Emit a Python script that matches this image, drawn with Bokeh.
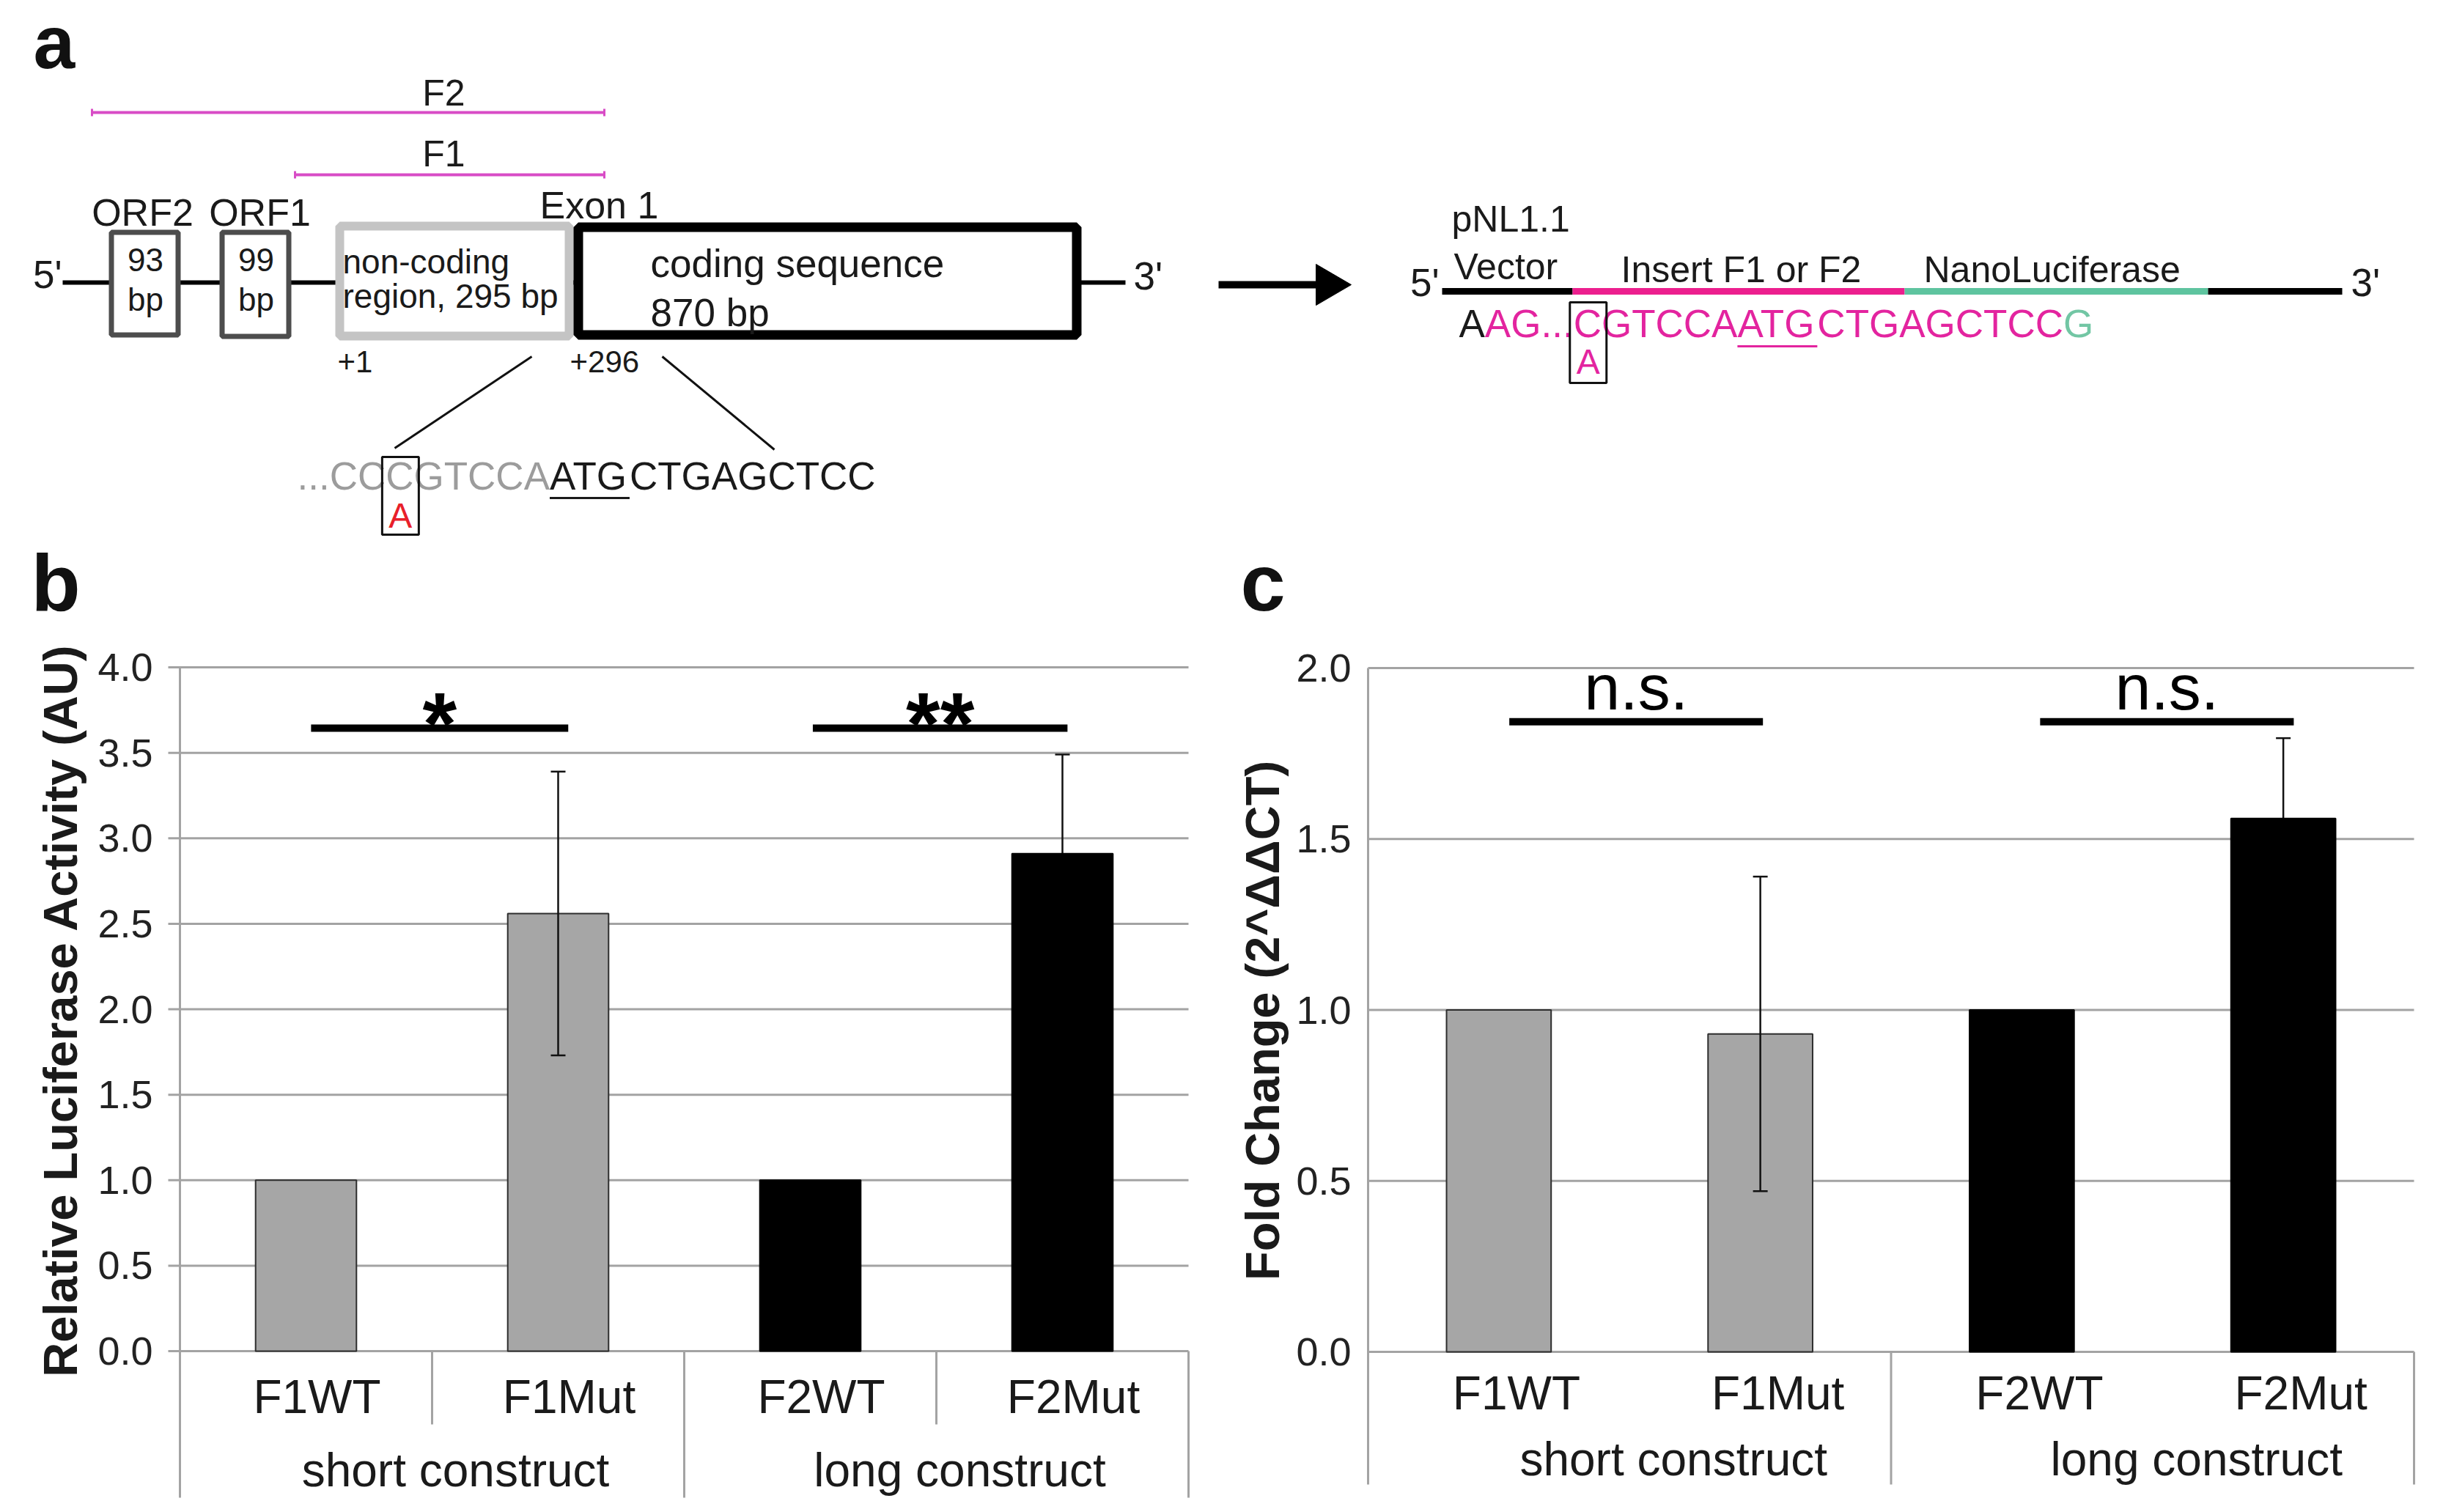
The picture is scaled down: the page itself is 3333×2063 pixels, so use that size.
import math
from bokeh.plotting import figure
from bokeh.models import Range1d
from bokeh.layouts import column, row
from bokeh.embed import file_html
from bokeh.resources import INLINE
from bokeh.core.properties import value

# ---------------- data ----------------
categories = ["F1WT", "F1Mut", "F2WT", "F2Mut"]
groups = ["short construct", "long construct"]
group_of = [0, 0, 1, 1]
luciferase = [1.0, 2.56, 1.0, 2.91]
luciferase_err = [None, 0.83, None, 0.58]
fold_change = [1.0, 0.93, 1.0, 1.56]
fold_change_err = [None, 0.46, None, 0.235]
ticks_b = [0.0, 0.5, 1.0, 1.5, 2.0, 2.5, 3.0, 3.5, 4.0]
ticks_c = [0.0, 0.5, 1.0, 1.5, 2.0]
sig_b = [("*", 0, 1), ("**", 2, 3)]
sig_c = [("n.s.", 0, 1), ("n.s.", 2, 3)]

# ---------------- style ----------------
FONT = "Liberation Sans"
INK = "#1a1a1a"
GRID = "#a3a3a3"
BAR_FILL = ["#a6a6a6", "#a6a6a6", "#000000", "#000000"]
BAR_LINE = ["#2e2e2e", "#2e2e2e", "#000000", "#000000"]
ERR = "#111111"
F_MAG = "#d84cc6"
INS_MAG = "#ec1f8e"
TXT_MAG = "#e3249f"
NL_GREEN = "#5ec49f"
TXT_GREEN = "#72c6a4"
SEQ_GRAY = "#9c9c9c"
BOX_GRAY = "#4d4d4d"
NC_GRAY = "#c4c4c4"
MID = 0.35  # em distance from alphabetic baseline to the "middle" anchor

PAGE_W, PAGE_H = 3333, 2063
SPLIT_Y = 731  # bottom of panel a / top of panels b, c

# Arial / Liberation Sans advance widths (per 1000 em)
AW = {'.': 278, 'A': 667, 'C': 722, 'G': 778, 'T': 611, ' ': 278}


def tw(s, fs):
    return sum(AW[c] for c in s) * fs / 1000.0


def put(p, x, y, s, size, color=INK, align="left", bold=False, angle=0.0, x_offset=0, y_offset=0):
    """text whose alphabetic baseline sits at y (+ y_offset px, positive = down)"""
    p.text(x=[x], y=[y], text=[s], text_font=value(FONT), text_font_size=value(f"{size}px"),
           text_color=color, text_align=align, text_baseline="middle",
           text_font_style="bold" if bold else "normal", angle=angle,
           x_offset=x_offset, y_offset=y_offset - MID * size)


# ======================= panel a (schematic, page pixel coordinates) =======================
pa = figure(width=PAGE_W, height=SPLIT_Y, x_range=Range1d(0, PAGE_W), y_range=Range1d(SPLIT_Y, 0),
            toolbar_location=None, output_backend="svg", x_axis_location=None,
            y_axis_location=None, min_border=0, outline_line_color=None)
pa.grid.visible = False

put(pa, 45, 93, "a", 102, bold=True, color="#111111")

# fragment bars F2 / F1
pa.segment(x0=[125, 402], y0=[153, 238], x1=[824, 824], y1=[153, 238], line_color=F_MAG, line_width=4)
pa.segment(x0=[125, 824, 402, 824], y0=[148, 148, 233, 233], x1=[125, 824, 402, 824],
           y1=[158, 158, 243, 243], line_color=F_MAG, line_width=3)
put(pa, 605, 144, "F2", 50, align="center")
put(pa, 605, 227, "F1", 50, align="center")

# gene backbone
pa.segment(x0=[85], y0=[385], x1=[1535], y1=[385], line_color="#000000", line_width=6)
put(pa, 84, 393, "5'", 53, align="right")
put(pa, 1546, 395, "3'", 53)

# uORF boxes
pa.quad(left=[151.5, 302.5], right=[242.5, 393.5], top=[316.5, 316.5], bottom=[456.5, 458.5],
        fill_color="white", line_color=BOX_GRAY, line_width=7)
put(pa, 194, 308, "ORF2", 52, align="center")
put(pa, 354, 308, "ORF1", 52, align="center")
put(pa, 198, 369, "93", 44, align="center")
put(pa, 198, 423, "bp", 44, align="center")
put(pa, 349, 369, "99", 44, align="center")
put(pa, 349, 423, "bp", 44, align="center")

# exon 1
pa.quad(left=[463], right=[776], top=[308], bottom=[458], fill_color="white",
        line_color=NC_GRAY, line_width=12)
pa.quad(left=[788.5], right=[1468.5], top=[309.5], bottom=[456.5], fill_color="white",
        line_color="#000000", line_width=13)
put(pa, 467, 373, "non-coding", 46)
put(pa, 467, 420, "region, 295 bp", 46)
put(pa, 887, 378, "coding sequence", 53)
put(pa, 887, 445, "870 bp", 53)
put(pa, 736, 298, "Exon 1", 52)
put(pa, 460, 508, "+1", 42)
put(pa, 777, 508, "+296", 42)

# zoom lines
pa.segment(x0=[725, 903], y0=[486, 486], x1=[538, 1056], y1=[611, 613],
           line_color="#111111", line_width=3)


def sequence(p, x0, base, fs, parts, box_idx, ul_idx, box_top, box_bot, sub_letter, sub_color,
             sub_base, ul_y, ul_color):
    x = x0
    pos = []
    for s, c in parts:
        put(p, x, base, s, fs, color=c)
        pos.append((x, x + tw(s, fs)))
        x += tw(s, fs)
    bx0, bx1 = pos[box_idx]
    cx = (bx0 + bx1) / 2 + 1
    p.quad(left=[cx - 25], right=[cx + 25], top=[box_top], bottom=[box_bot], fill_color=None,
           line_color="#111111", line_width=3)
    put(p, cx, sub_base, sub_letter, fs - 5, color=sub_color, align="center")
    ux0, ux1 = pos[ul_idx]
    p.segment(x0=[ux0], y0=[ul_y], x1=[ux1], y1=[ul_y], line_color=ul_color, line_width=3)


sequence(pa, 405, 668, 53,
         [("...CC", SEQ_GRAY), ("C", SEQ_GRAY), ("GTCCA", SEQ_GRAY), ("ATG", INK), ("CTGAGCTCC", INK)],
         1, 3, 623, 729, "A", "#e8202a", 720, 679, INK)

# arrow
pa.segment(x0=[1662], y0=[388], x1=[1800], y1=[388], line_color="#000000", line_width=10)
pa.patch(x=[1795, 1843, 1795], y=[360, 388, 416], fill_color="#000000", line_color="#000000")

# reporter construct
pa.segment(x0=[1967, 2145, 2598, 3012], y0=[397] * 4, x1=[2145, 2598, 3012, 3195], y1=[397] * 4,
           line_color=["#000000", INS_MAG, NL_GREEN, "#000000"], line_width=9)
put(pa, 1963, 404, "5'", 53, align="right")
put(pa, 3207, 404, "3'", 53)
put(pa, 1980, 316, "pNL1.1", 50)
put(pa, 1983, 381, "Vector", 50)
put(pa, 2211, 385, "Insert F1 or F2", 50)
put(pa, 2624, 385, "NanoLuciferase", 50)
sequence(pa, 1990, 460, 53,
         [("A", INK), ("AG...", TXT_MAG), ("C", TXT_MAG), ("GTCCA", TXT_MAG), ("ATG", TXT_MAG),
          ("CTGAGCTCC", TXT_MAG), ("G", TXT_GREEN)],
         2, 4, 412, 522, "A", TXT_MAG, 510, 472, TXT_MAG)


# ======================= bar panels =======================
def error_bars(p, xs, vals, errs, keep):
    ex = [x for x, e, k in zip(xs, errs, keep) if e is not None and k]
    ev = [v for v, e, k in zip(vals, errs, keep) if e is not None and k]
    ee = [e for e, k in zip(errs, keep) if e is not None and k]
    if not ex:
        return
    up = [v + e for v, e in zip(ev, ee)]
    lo = [v - e for v, e in zip(ev, ee)]
    p.segment(x0=ex, y0=lo, x1=ex, y1=up, line_color=ERR, line_width=2.5)
    p.scatter(x=ex + ex, y=up + lo, marker="dash", size=20, line_color=ERR, line_width=2.5)


def bar_panel(vals, errs, ticks, ymax, page_x0, width, plot_l, plot_r, y_zero, y_top, line_bot,
              tick_out, lab_gap, ylabel, ylabel_base_x, ylabel_center_y, letter, letter_x, letter_base,
              short_sep, sigs, sig_y, sig_spans, sig_font, sig_bold, sig_dy,
              lab_dx, lab_dy, grp_dx, grp_dy):
    n = len(categories)
    ux = (plot_r - plot_l) / n                  # px per category
    uy = (y_zero - y_top) / ymax                # px per value unit
    L = plot_l - page_x0
    xr = Range1d(-L / ux, (width - L) / ux)
    yr = Range1d((y_zero - PAGE_H) / uy, (y_zero - SPLIT_Y) / uy)
    p = figure(width=width, height=PAGE_H - SPLIT_Y, x_range=xr, y_range=yr,
               x_axis_location=None, y_axis_location=None, toolbar_location=None,
               output_backend="svg", min_border=0, outline_line_color=None)
    p.grid.visible = False
    ybot = (y_zero - line_bot) / uy

    # value grid, tick stubs, axis line and tick labels
    nt = len(ticks)
    p.segment(x0=[-tick_out / ux] * nt, y0=ticks, x1=[n] * nt, y1=ticks, line_color=GRID, line_width=3)
    p.segment(x0=[0], y0=[ymax], x1=[0], y1=[ybot], line_color=GRID, line_width=3)
    p.text(x=[0] * nt, y=ticks, text=[f"{t:.1f}" for t in ticks], text_font=value(FONT),
           text_font_size=value("54px"), text_color="#222222", text_align="right",
           text_baseline="middle", x_offset=-(tick_out + lab_gap))

    # category separators below the baseline
    full = [float(n)] + [float(i) for i in range(1, n) if group_of[i] != group_of[i - 1]]
    p.segment(x0=full, y0=[0] * len(full), x1=full, y1=[ybot] * len(full), line_color=GRID, line_width=3)
    if short_sep:
        sh = [float(i) for i in range(1, n) if group_of[i] == group_of[i - 1]]
        p.segment(x0=sh, y0=[0] * len(sh), x1=sh, y1=[-short_sep / uy] * len(sh),
                  line_color=GRID, line_width=3)

    xs = [i + 0.5 for i in range(n)]
    dark = [f == "#000000" for f in BAR_FILL]
    # whiskers on black bars sit behind the bar (invisible inside it), others on top
    error_bars(p, xs, vals, errs, dark)
    p.vbar(x=xs, top=vals, width=0.4, fill_color=BAR_FILL, line_color=BAR_LINE, line_width=2)
    error_bars(p, xs, vals, errs, [not d for d in dark])

    # category labels and group labels
    p.text(x=xs, y=[0] * n, text=categories, text_font=value(FONT),
           text_font_size=value("64px"), text_color=INK, text_align="center",
           text_baseline="middle", x_offset=lab_dx, y_offset=lab_dy - MID * 64)
    gc = []
    for g in range(len(groups)):
        idx = [xs[i] for i in range(n) if group_of[i] == g]
        gc.append(sum(idx) / len(idx))
    p.text(x=gc, y=[0] * len(gc), text=groups, text_font=value(FONT),
           text_font_size=value("64px"), text_color=INK, text_align="center",
           text_baseline="middle", x_offset=grp_dx, y_offset=grp_dy - MID * 64)

    # significance bars
    for (mark, i, j), (a, b) in zip(sigs, sig_spans):
        p.segment(x0=[a], y0=[sig_y], x1=[b], y1=[sig_y], line_color="#000000", line_width=10)
        put(p, (a + b) / 2, sig_y, mark, sig_font, color="#000000", align="center",
            bold=sig_bold, y_offset=sig_dy)

    # axis title (rotated) and panel letter
    tx = (ylabel_base_x - MID * 65 - plot_l) / ux
    ty = (y_zero - ylabel_center_y) / uy
    p.text(x=[tx], y=[ty], text=[ylabel], text_font=value(FONT), text_font_size=value("65px"),
           text_font_style="bold", text_color=INK, text_align="center", text_baseline="middle",
           angle=math.pi / 2)
    put(p, (letter_x - plot_l) / ux, (y_zero - letter_base) / uy, letter, 110, bold=True,
        color="#111111")
    return p


pb = bar_panel(luciferase, luciferase_err, ticks_b, 4.0, 0, 1650, 245, 1621, 1843, 910, 2043,
               16, 21, "Relative Luciferase Activity (AU)", 105, 1378, "b", 42, 832,
               100, sig_b, 3.644, [(0.52, 1.54), (2.51, 3.52)], 120, True, 35,
               15, 85, 32, 185)

pc = bar_panel(fold_change, fold_change_err, ticks_c, 2.0, 1650, 1683, 1866, 3293, 1844, 911, 2025,
               0, 23, "Fold Change (2^\u0394\u0394CT)", 1745, 1392, "c", 1692, 832,
               0, sig_c, 1.843, [(0.54, 1.51), (2.57, 3.54)], 88, False, -16,
               24, 79, 60, 169)

layout = column(pa, row(pb, pc))
open("out.html", "w").write(file_html(layout, INLINE))
